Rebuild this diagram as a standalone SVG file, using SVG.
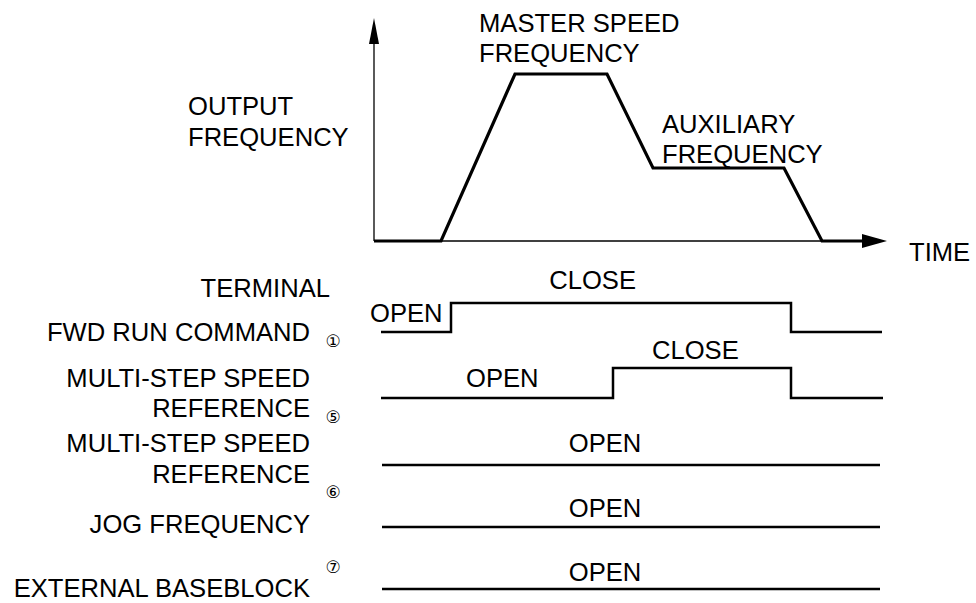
<svg xmlns="http://www.w3.org/2000/svg" width="976" height="603" viewBox="0 0 976 603">
<style>
text{font-family:"Liberation Sans",Arial,sans-serif;font-size:25.6px;fill:#000}
.r{text-anchor:end}
.m{text-anchor:middle}
.n{font-family:"DejaVu Sans",sans-serif;font-size:17px;text-anchor:middle}
.thin{fill:none;stroke:#000;stroke-width:1.3}
.thick{fill:none;stroke:#000;stroke-width:3.2;stroke-linejoin:miter}
.sig{fill:none;stroke:#000;stroke-width:2.5;stroke-linejoin:miter}
</style>
<rect width="976" height="603" fill="#fff"/>
<g id="axes">
<line class="thin" x1="374" y1="241" x2="374" y2="40"/>
<polygon points="374,18 369,44 379,44"/>
<line class="thin" x1="374" y1="241" x2="866" y2="241"/>
<polygon points="887,241 862,234 862,248"/>
</g>
<g id="connectors">
<polyline id="output-wave" class="thick" points="374,241 441,241 515,74 607,74 653,168 784,168 822,241 864,241"/>
<polyline id="fwd-run" class="sig" points="381,332 451,332 451,303 791,303 791,332 882,332"/>
<polyline id="ms5" class="sig" points="381,398 613,398 613,368 791,368 791,398 883,398"/>
<line id="ms6" class="sig" x1="382" y1="465" x2="880" y2="465"/>
<line id="jog" class="sig" x1="382" y1="527" x2="880" y2="527"/>
<line id="ebb" class="sig" x1="382" y1="589" x2="880" y2="589"/>
</g>
<g id="label-output">
<text x="188" y="115">OUTPUT</text>
<text x="188" y="146">FREQUENCY</text>
</g>
<g id="label-master">
<text x="479" y="32">MASTER SPEED</text>
<text x="479" y="62">FREQUENCY</text>
</g>
<g id="label-aux">
<text x="662" y="133">AUXILIARY</text>
<text x="662" y="163">FREQUENCY</text>
</g>
<g id="label-time"><text x="909" y="261">TIME</text></g>
<g id="label-fwd">
<text class="r" x="330" y="297">TERMINAL</text>
<text class="r" x="310" y="341">FWD RUN COMMAND</text>
<text class="n" x="333" y="347">①</text>
<text x="370" y="322">OPEN</text>
<text class="r" x="636" y="289">CLOSE</text>
</g>
<g id="label-ms5">
<text class="r" x="310" y="387">MULTI-STEP SPEED</text>
<text class="r" x="310" y="417">REFERENCE</text>
<text class="n" x="333" y="423">⑤</text>
<text x="466" y="387">OPEN</text>
<text x="652" y="359">CLOSE</text>
</g>
<g id="label-ms6">
<text class="r" x="310" y="452">MULTI-STEP SPEED</text>
<text class="r" x="310" y="483">REFERENCE</text>
<text class="n" x="333" y="498">⑥</text>
<text class="m" x="605" y="452">OPEN</text>
</g>
<g id="label-jog">
<text class="r" x="310" y="533">JOG FREQUENCY</text>
<text class="m" x="605" y="517">OPEN</text>
</g>
<g id="label-ebb">
<text class="n" x="333" y="573">⑦</text>
<text class="r" x="310" y="597">EXTERNAL BASEBLOCK</text>
<text class="m" x="605" y="581">OPEN</text>
</g>
</svg>
